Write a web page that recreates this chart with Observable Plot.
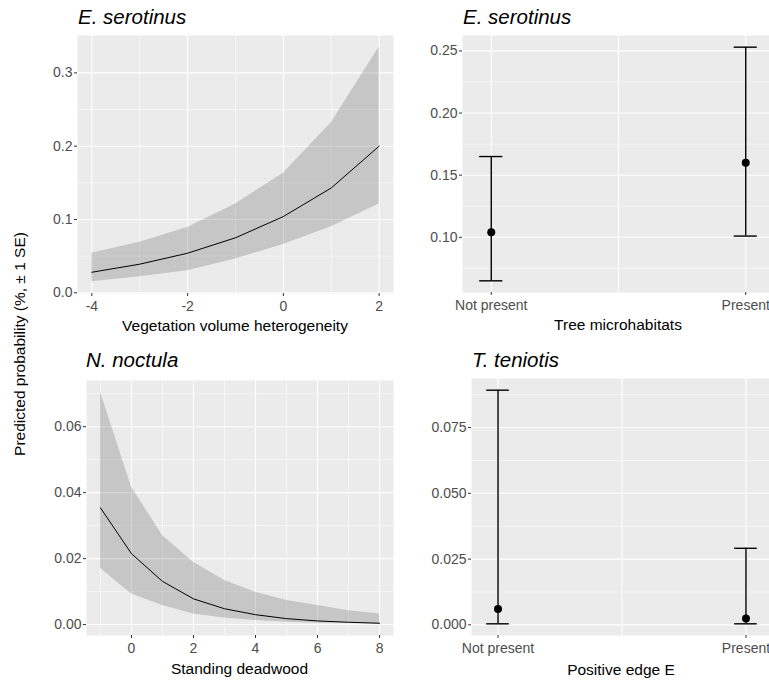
<!DOCTYPE html>
<html>
<head>
<meta charset="utf-8">
<script src="https://cdn.jsdelivr.net/npm/d3@7"></script>
<script src="https://cdn.jsdelivr.net/npm/@observablehq/plot@0.6"></script>
<style>
  html, body { margin: 0; padding: 0; background: #fff; overflow: hidden; }
  #fig { position: relative; width: 769px; height: 687px; overflow: hidden; font-family: "Liberation Sans", Arial, sans-serif; }
  #fig .panel { position: absolute; }
  #fig .lbl { position: absolute; white-space: nowrap; color: #000; }
</style>
</head>
<body>
<div id="fig"></div>
<script>
// ---------- data ----------
// Panel A: E. serotinus vs vegetation volume heterogeneity
const vegX    = [-4, -3, -2, -1, 0, 1, 2];
const vegFit  = [0.028, 0.039, 0.054, 0.075, 0.104, 0.143, 0.200];
const vegLow  = [0.015, 0.022, 0.030, 0.046, 0.066, 0.090, 0.121];
const vegHigh = [0.054, 0.069, 0.089, 0.121, 0.163, 0.232, 0.335];

// Panel B: E. serotinus vs tree microhabitats
const presenceCats = ["Not present", "Present"];
const treeFit  = [0.104, 0.160];
const treeLow  = [0.065, 0.101];
const treeHigh = [0.165, 0.253];

// Panel C: N. noctula vs standing deadwood
const deadX    = [-1, 0, 1, 2, 3, 4, 5, 6, 7, 8];
const deadFit  = [0.0354, 0.0215, 0.0131, 0.0078, 0.0048, 0.0030, 0.0018, 0.0011, 0.0007, 0.0004];
const deadLow  = [0.0171, 0.0093, 0.0058, 0.0032, 0.0020, 0.0012, 0.0007, 0.0004, 0.0003, 0.0002];
const deadHigh = [0.0705, 0.0417, 0.0270, 0.0189, 0.0134, 0.0098, 0.0073, 0.0058, 0.0042, 0.0032];

// Panel D: T. teniotis vs positive edge E
const edgeFit  = [0.0060, 0.0024];
const edgeLow  = [0.0004, 0.0004];
const edgeHigh = [0.0892, 0.0291];

// tick labels / titles
const titles = ["E. serotinus", "E. serotinus", "N. noctula", "T. teniotis"];
const xTitles = ["Vegetation volume heterogeneity", "Tree microhabitats", "Standing deadwood", "Positive edge E"];
const yTitle = "Predicted probability (%, \u00b1 1 SE)";

// ---------- helpers ----------
const fig = document.getElementById("fig");
function expand([a, b], f = 0.05) { const d = (b - a) * f; return [a - d, b + d]; }

function addLabel(text, x, baseline, size, opts = {}) {
  const el = document.createElement("div");
  el.className = "lbl";
  el.textContent = text;
  el.style.fontSize = size + "px";
  el.style.lineHeight = size + "px";
  el.style.top = (baseline - 0.8465 * size) + "px";
  el.style.left = x + "px";
  if (opts.italic) el.style.fontStyle = "italic";
  if (opts.center) el.style.transform = "translateX(-50%)";
  fig.appendChild(el);
  return el;
}

const gridMajor = {stroke: "#ffffff", strokeOpacity: 1, strokeWidth: 1.1};
const gridMinor = {stroke: "#ffffff", strokeOpacity: 1, strokeWidth: 0.55};
const axisStyle = {tickSize: 3, stroke: "#333333", fill: "#4d4d4d", label: null};

function panel(cfg) {
  const svg = Plot.plot({
    width: cfg.width, height: cfg.height,
    marginLeft: cfg.mL, marginRight: cfg.mR, marginTop: cfg.mT, marginBottom: cfg.mB,
    x: {type: "linear", domain: cfg.xDomain},
    y: {type: "linear", domain: cfg.yDomain},
    style: {fontFamily: "'Liberation Sans', Arial, sans-serif", fontSize: "14px", background: "transparent", overflow: "visible"},
    marks: [
      Plot.frame({fill: "#ebebeb", stroke: null}),
      Plot.gridY(cfg.yMinor, gridMinor),
      Plot.gridX(cfg.xMinor, gridMinor),
      Plot.gridY(cfg.yTicks, gridMajor),
      Plot.gridX(cfg.xGrid, gridMajor),
      ...cfg.marks,
      Plot.axisX(cfg.xTicks, {...axisStyle, tickPadding: 5, tickFormat: cfg.xFormat}),
      Plot.axisY(cfg.yTicks, {...axisStyle, tickPadding: 2, tickFormat: cfg.yFormat})
    ]
  });
  svg.classList.add("panel");
  svg.style.left = cfg.left + "px";
  svg.style.top = cfg.top + "px";
  fig.appendChild(svg);
}

// ---------- Panel A ----------
const vegRows = vegX.map((x, i) => ({x, fit: vegFit[i], lo: vegLow[i], hi: vegHigh[i]}));
panel({
  left: 0, top: 0, width: 400, height: 340, mL: 77, mR: 7, mT: 35, mB: 47,
  xDomain: expand(d3.extent(vegX)),
  yDomain: expand([d3.min(vegLow), d3.max(vegHigh)]),
  xTicks: [-4, -2, 0, 2], xGrid: [-4, -2, 0, 2], xMinor: [-3, -1, 1],
  yTicks: [0, 0.1, 0.2, 0.3], yMinor: [0.05, 0.15, 0.25],
  xFormat: d => String(d), yFormat: d3.format(".1f"),
  marks: [
    Plot.areaY(vegRows, {x: "x", y1: "lo", y2: "hi", fill: "#333333", fillOpacity: 0.2}),
    Plot.line(vegRows, {x: "x", y: "fit", stroke: "#000", strokeWidth: 1})
  ]
});

// ---------- Panel B ----------
const capHalf = 0.0455;
const treeRows = presenceCats.map((c, i) => ({x: i, fit: treeFit[i], lo: treeLow[i], hi: treeHigh[i]}));
function errMarks(rows) {
  return [
    Plot.ruleX(rows, {x: "x", y1: "lo", y2: "hi", stroke: "#000", strokeWidth: 1.4}),
    Plot.ruleY(rows, {y: "lo", x1: d => d.x - capHalf, x2: d => d.x + capHalf, stroke: "#000", strokeWidth: 1.4}),
    Plot.ruleY(rows, {y: "hi", x1: d => d.x - capHalf, x2: d => d.x + capHalf, stroke: "#000", strokeWidth: 1.4}),
    Plot.dot(rows, {x: "x", y: "fit", r: 4, fill: "#000", stroke: null})
  ];
}
panel({
  left: 380, top: 0, width: 400, height: 340, mL: 82, mR: 6, mT: 35, mB: 48,
  xDomain: [-0.113, 1.113],
  yDomain: expand([d3.min(treeLow), d3.max(treeHigh)]),
  xTicks: [0, 1], xGrid: [0, 0.5, 1], xMinor: [],
  yTicks: [0.10, 0.15, 0.20, 0.25], yMinor: [0.075, 0.125, 0.175, 0.225],
  xFormat: i => presenceCats[i], yFormat: d3.format(".2f"),
  marks: errMarks(treeRows)
});

// ---------- Panel C ----------
const deadRows = deadX.map((x, i) => ({x, fit: deadFit[i], lo: deadLow[i], hi: deadHigh[i]}));
panel({
  left: 0, top: 340, width: 400, height: 347, mL: 86, mR: 7, mT: 40, mB: 52,
  xDomain: expand(d3.extent(deadX)),
  yDomain: expand([d3.min(deadLow), d3.max(deadHigh)]),
  xTicks: [0, 2, 4, 6, 8], xGrid: [0, 2, 4, 6, 8], xMinor: [-1, 1, 3, 5, 7],
  yTicks: [0, 0.02, 0.04, 0.06], yMinor: [0.01, 0.03, 0.05, 0.07],
  xFormat: d => String(d), yFormat: d3.format(".2f"),
  marks: [
    Plot.areaY(deadRows, {x: "x", y1: "lo", y2: "hi", fill: "#333333", fillOpacity: 0.2}),
    Plot.line(deadRows, {x: "x", y: "fit", stroke: "#000", strokeWidth: 1})
  ]
});

// ---------- Panel D ----------
const edgeRows = presenceCats.map((c, i) => ({x: i, fit: edgeFit[i], lo: edgeLow[i], hi: edgeHigh[i]}));
panel({
  left: 380, top: 340, width: 400, height: 347, mL: 91, mR: 8, mT: 38, mB: 52,
  xDomain: [-0.107, 1.107],
  yDomain: expand([d3.min(edgeLow), d3.max(edgeHigh)]),
  xTicks: [0, 1], xGrid: [0, 0.5, 1], xMinor: [],
  yTicks: [0, 0.025, 0.05, 0.075], yMinor: [0.0125, 0.0375, 0.0625, 0.0875],
  xFormat: i => presenceCats[i], yFormat: d3.format(".3f"),
  marks: errMarks(edgeRows)
});

// ---------- text ----------
addLabel(titles[0], 78, 24, 20.5, {italic: true});
addLabel(titles[1], 463, 24, 20.5, {italic: true});
addLabel(titles[2], 86, 367, 20.5, {italic: true});
addLabel(titles[3], 472, 367, 20.5, {italic: true});

addLabel(xTitles[0], 235, 331, 15.5, {center: true});
addLabel(xTitles[1], 618, 330, 15.5, {center: true});
addLabel(xTitles[2], 239.5, 674, 15.5, {center: true});
addLabel(xTitles[3], 621, 675, 15.5, {center: true});

const yl = addLabel(yTitle, 0, 0, 15.5, {});
yl.style.left = "20px";
yl.style.top = "344px";
yl.style.transform = "translate(-50%, -50%) rotate(-90deg)";
</script>
</body>
</html>
